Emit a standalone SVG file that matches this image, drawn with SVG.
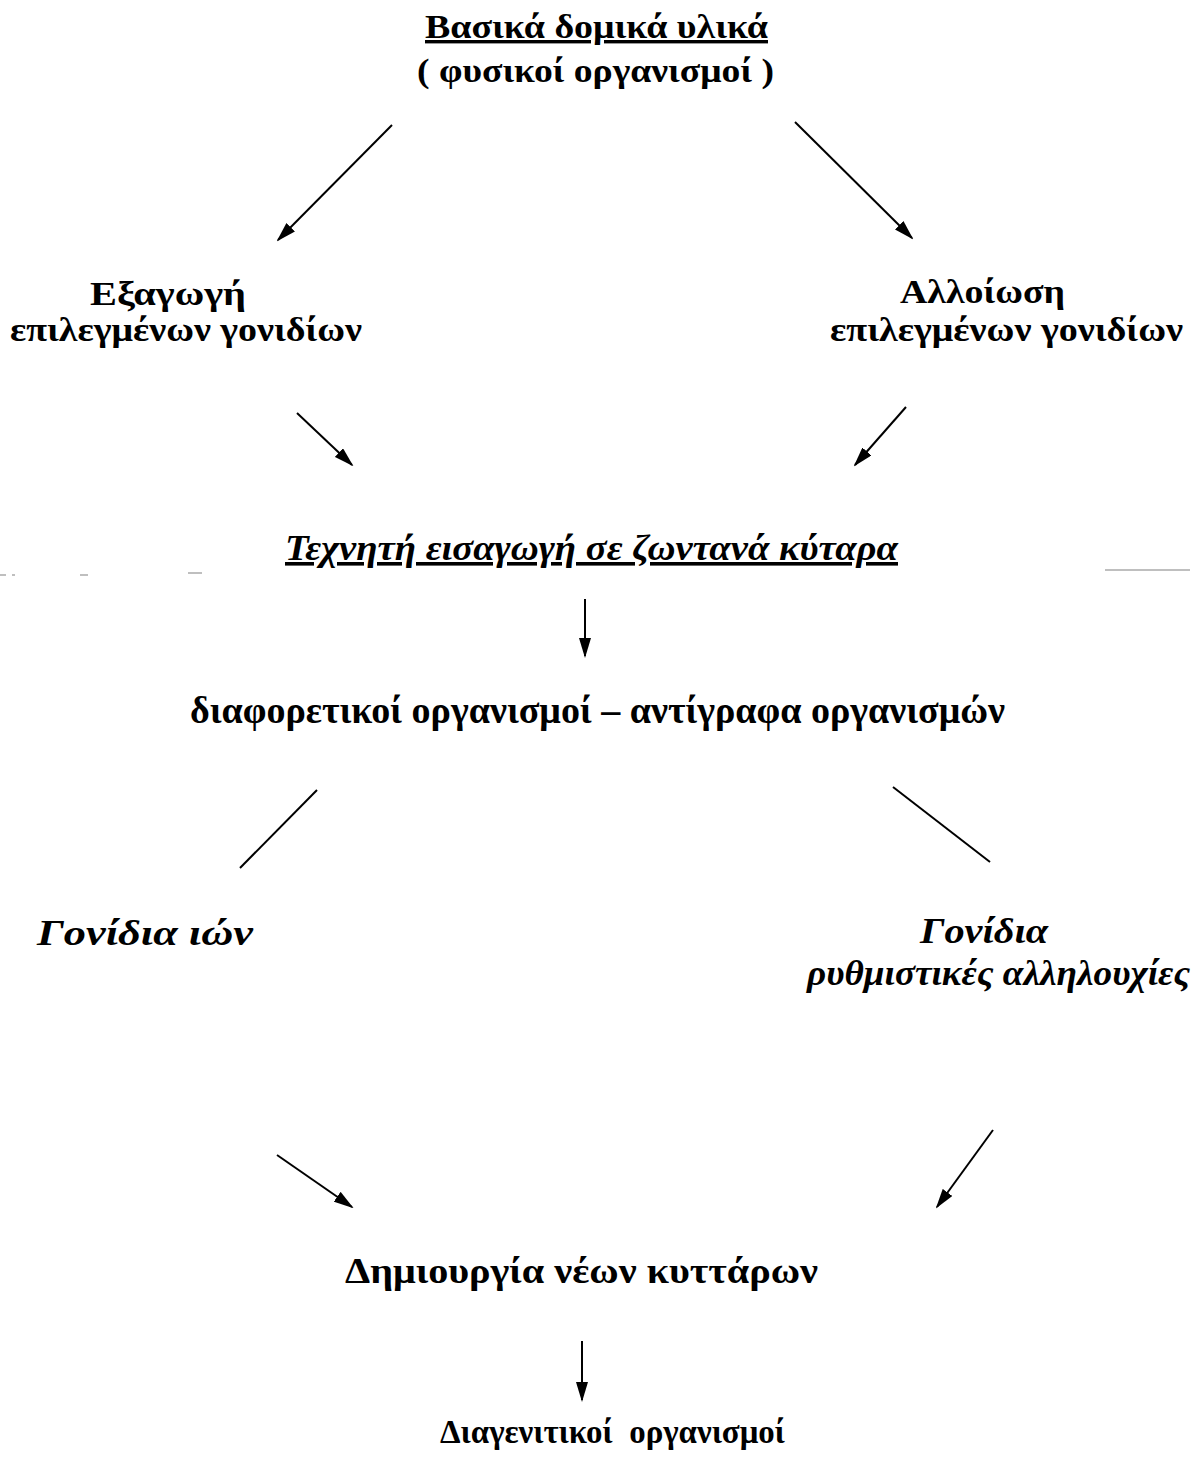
<svg xmlns="http://www.w3.org/2000/svg" width="1195" height="1465" viewBox="0 0 1195 1465">
<style>
.t{font-family:"Liberation Serif","Times New Roman",serif;font-weight:bold;fill:#000;white-space:pre}
.i{font-style:italic}
.u{text-decoration:underline}
.c{stroke:#000;stroke-width:2;fill:none}
.a{marker-end:url(#ah)}
.n{stroke:#aaa;stroke-width:1.5}
</style>
<defs>
<marker id="ah" markerWidth="20" markerHeight="12" refX="18" refY="6" orient="auto" markerUnits="userSpaceOnUse">
<path d="M0,0 L20,6 L0,12 Z" fill="#000"/>
</marker>
</defs>
<rect width="1195" height="1465" fill="#fff"/>
<g id="n-top">
<text class="t u" x="425" y="38" font-size="34" textLength="343" lengthAdjust="spacingAndGlyphs">Βασικά δομικά υλικά</text>
<text class="t" x="417" y="82" font-size="34" textLength="357" lengthAdjust="spacingAndGlyphs">( φυσικοί οργανισμοί )</text>
</g>
<g id="n-export">
<text class="t" x="90" y="305" font-size="34" textLength="156" lengthAdjust="spacingAndGlyphs">Εξαγωγή</text>
<text class="t" x="10" y="341" font-size="34" textLength="352" lengthAdjust="spacingAndGlyphs">επιλεγμένων γονιδίων</text>
</g>
<g id="n-alter">
<text class="t" x="900" y="303" font-size="34" textLength="165" lengthAdjust="spacingAndGlyphs">Αλλοίωση</text>
<text class="t" x="830" y="341" font-size="34" textLength="353" lengthAdjust="spacingAndGlyphs">επιλεγμένων γονιδίων</text>
</g>
<g id="n-intro">
<text class="t i u" x="285" y="560" font-size="36" textLength="613" lengthAdjust="spacingAndGlyphs">Τεχνητή εισαγωγή σε ζωντανά κύταρα</text>
</g>
<g id="n-diff">
<text class="t" x="190" y="723" font-size="37" textLength="815" lengthAdjust="spacingAndGlyphs">διαφορετικοί οργανισμοί – αντίγραφα οργανισμών</text>
</g>
<g id="n-ions">
<text class="t i" x="37" y="945" font-size="36" textLength="216" lengthAdjust="spacingAndGlyphs">Γονίδια ιών</text>
</g>
<g id="n-reg">
<text class="t i" x="920" y="943" font-size="36" textLength="128" lengthAdjust="spacingAndGlyphs">Γονίδια</text>
<text class="t i" x="807" y="985" font-size="36" textLength="383" lengthAdjust="spacingAndGlyphs">ρυθμιστικές αλληλουχίες</text>
</g>
<g id="n-cells">
<text class="t" x="345" y="1283" font-size="35" textLength="473" lengthAdjust="spacingAndGlyphs">Δημιουργία νέων κυττάρων</text>
</g>
<g id="n-trans">
<text class="t" x="440" y="1443" font-size="34" textLength="345" lengthAdjust="spacingAndGlyphs">Διαγενιτικοί  οργανισμοί</text>
</g>
<g id="connectors">
<line class="c a" x1="392" y1="125" x2="278" y2="240"/>
<line class="c a" x1="795" y1="122" x2="912" y2="238"/>
<line class="c a" x1="297" y1="413" x2="352" y2="465"/>
<line class="c a" x1="906" y1="407" x2="855" y2="465"/>
<line class="c a" x1="585" y1="599" x2="585" y2="656"/>
<line class="c" x1="317" y1="790" x2="240" y2="868"/>
<line class="c" x1="893" y1="787" x2="990" y2="862"/>
<line class="c a" x1="277" y1="1155" x2="352" y2="1207"/>
<line class="c a" x1="993" y1="1130" x2="937" y2="1207"/>
<line class="c a" x1="582" y1="1341" x2="582" y2="1400"/>
</g>
<g id="scan-marks">
<line class="n" x1="0" y1="575" x2="6" y2="575"/>
<line class="n" x1="12" y1="575" x2="15" y2="575"/>
<line class="n" x1="80" y1="575" x2="88" y2="575"/>
<line class="n" x1="188" y1="573" x2="202" y2="573"/>
<line class="n" x1="1105" y1="570" x2="1190" y2="570"/>
</g>
</svg>
